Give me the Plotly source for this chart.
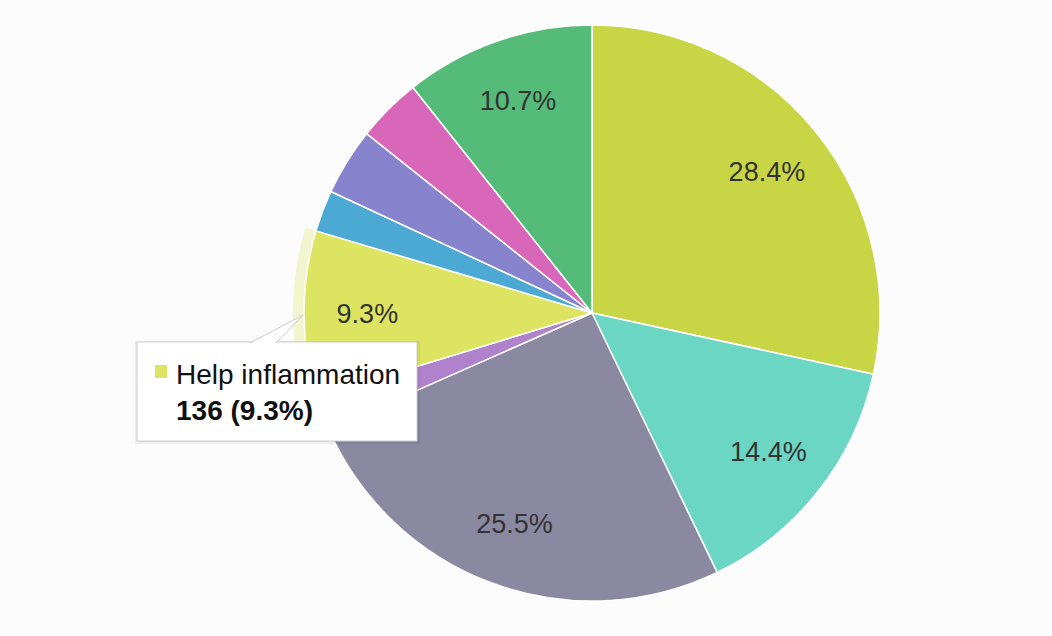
import plotly.graph_objects as go

# Slice data, clockwise from 12 o'clock
categories = ['Relieve pain', 'Improve sleep', 'Reduce anxiety', 'Boost appetite',
              'Help inflammation', 'Treat nausea', 'Manage seizures',
              'Ease muscle spasms', 'Other']
counts = [415, 211, 373, 28, 136, 34, 55, 53, 156]
colors = ['#c8d645', '#6bd6c4', '#8b89a1', '#b182cc', '#dde462',
          '#4ba9d3', '#8883cd', '#d867ba', '#55bb78']
show_label = [True, True, True, False, True, False, False, False, True]

hovered = 4  # index of the slice with the tooltip

# pie geometry in pixels (figure is 1052 x 636)
W, H = 1052, 636
cx, cy, r = 592, 313, 288
halo = 11

def domain(rad):
    return dict(x=[(cx - rad) / W, (cx + rad) / W],
                y=[1 - (cy + rad) / H, 1 - (cy - rad) / H])

def px(x, y):
    return x / W, 1 - y / H

fig = go.Figure()

# emphasis halo behind the hovered slice
halo_colors = ['rgba(0,0,0,0)'] * len(counts)
halo_colors[hovered] = 'rgba(221,228,98,0.3)'
fig.add_trace(go.Pie(
    labels=categories, values=counts, sort=False, direction='clockwise',
    rotation=0, domain=domain(r + halo), textinfo='none', hoverinfo='skip',
    marker=dict(colors=halo_colors, line=dict(width=0)),
    showlegend=False))

# the pie itself
fig.add_trace(go.Pie(
    labels=categories, values=counts, sort=False, direction='clockwise',
    rotation=0, domain=domain(r), textinfo='none',
    marker=dict(colors=colors, line=dict(color='white', width=1.5)),
    hoverinfo='skip', showlegend=False))

# transparent ring on top, only to put the percent labels out near the rim
fig.add_trace(go.Pie(
    labels=categories, values=counts, sort=False, direction='clockwise',
    rotation=0, domain=domain(r), hole=0.56,
    texttemplate=['%{percent:.1%}' if s else '' for s in show_label],
    textposition='inside', insidetextorientation='horizontal',
    textfont=dict(family='Liberation Sans, Arial', size=27, color='#333333'),
    marker=dict(colors=['rgba(0,0,0,0)'] * len(counts), line=dict(width=0)),
    hoverinfo='skip', showlegend=False))

# tooltip for the hovered slice: shadow, box, pointer, marker, text
x0, y0 = px(137, 342)
x1, y1 = px(417, 441)
fig.add_shape(type='rect', xref='paper', yref='paper',
              x0=x0 - 2 / W, y0=y1 - 3 / H, x1=x1 + 3 / W, y1=y0 + 1 / H,
              fillcolor='rgba(0,0,0,0.06)', line=dict(width=0))
fig.add_shape(type='rect', xref='paper', yref='paper',
              x0=x0, y0=y1, x1=x1, y1=y0,
              fillcolor='white', line=dict(color='#cccccc', width=1))
bx0, by = px(250, 343)
tx, ty = px(303, 315)
bx1, _ = px(276, 343)
fig.add_shape(type='path', xref='paper', yref='paper',
              path=f'M {bx0},{by} L {tx},{ty} L {bx1},{by}',
              fillcolor='white', line=dict(color='#cccccc', width=1))
mx0, my0 = px(155, 365)
mx1, my1 = px(167, 378)
fig.add_shape(type='rect', xref='paper', yref='paper',
              x0=mx0, y0=my1, x1=mx1, y1=my0,
              fillcolor=colors[hovered], line=dict(width=0))

total = sum(counts)
tip = (f"{categories[hovered]}"
       f"<br><b>{counts[hovered]} ({counts[hovered] / total:.1%})</b>")
ax_, ay_ = px(174, 392)
fig.add_annotation(
    xref='paper', yref='paper', x=ax_, y=ay_,
    xanchor='left', yanchor='middle', align='left', text=tip,
    font=dict(family='Liberation Sans, Arial', size=28, color='#111111'),
    showarrow=False)

fig.update_layout(
    width=W, height=H,
    margin=dict(l=0, r=0, t=0, b=0),
    paper_bgcolor='#fcfcfc', plot_bgcolor='#fcfcfc')

fig.write_html('out.html', config={'displayModeBar': False},
               post_script="document.body.style.margin='0';")
